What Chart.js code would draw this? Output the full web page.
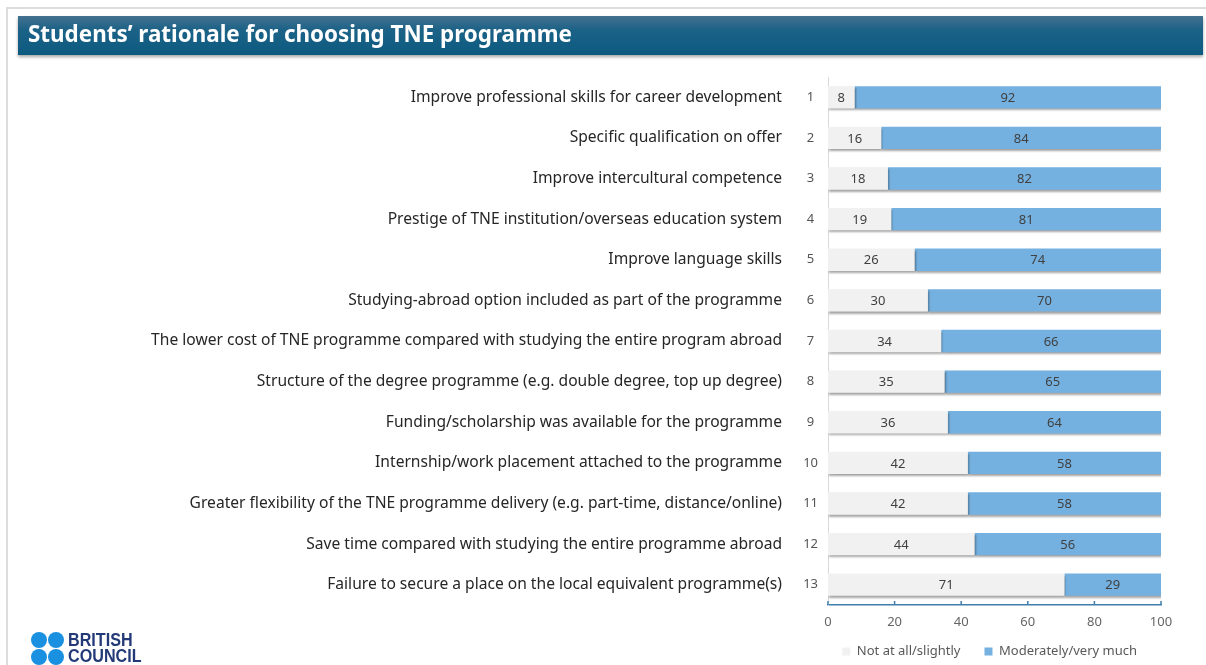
<!DOCTYPE html>
<html>
<head>
<meta charset="utf-8">
<script src="https://cdn.jsdelivr.net/npm/chart.js@4.4.1/dist/chart.umd.min.js"></script>
<style>
  html, body { margin:0; padding:0; background:#fff; }
  body { width:1206px; height:665px; position:relative; overflow:hidden; font-family:"Noto Sans", sans-serif; }
  #frame { position:absolute; left:6px; top:7px; width:1200px; height:660px; border-top:2px solid #dcdcdc; border-left:2px solid #dcdcdc; }
  #titlebar { position:absolute; left:18px; top:16px; width:1185px; height:39px;
    background:linear-gradient(to bottom,#44718f 0%,#1c6287 35%,#0c5a80 100%);
    box-shadow:0 2px 3px rgba(0,0,0,0.35); }
  #titlebar span { position:absolute; left:10px; top:2px; color:#fff; font:bold 22.4px/32px "Noto Sans", sans-serif; }
  #wrap { position:absolute; left:0; top:0; width:1206px; height:665px; }
  #logo { position:absolute; left:31px; top:632px; width:160px; height:34px; }
  .dot { position:absolute; width:16px; height:16px; border-radius:50%; background:#1a90e0; }
  #logo .txt { position:absolute; left:37px; top:0px; color:#233a78; font:bold 19px/16px "Liberation Sans",sans-serif; transform:scaleX(0.85); transform-origin:0 0; white-space:nowrap; }
</style>
</head>
<body>
<div id="frame"></div>
<div id="wrap"><canvas id="c" width="1206" height="665"></canvas></div>
<div id="titlebar"><span>Students’ rationale for choosing TNE programme</span></div>
<div id="logo">
  <div class="dot" style="left:0;top:0"></div><div class="dot" style="left:17px;top:0"></div>
  <div class="dot" style="left:0;top:17px"></div><div class="dot" style="left:17px;top:17px"></div>
  <div class="txt">BRITISH<br>COUNCIL</div>
</div>
<script>
const rankLabels = ['1','2','3','4','5','6','7','8','9','10','11','12','13'];
const reasons = [
  'Improve professional skills for career development',
  'Specific qualification on offer',
  'Improve intercultural competence',
  'Prestige of TNE institution/overseas education system',
  'Improve language skills',
  'Studying-abroad option included as part of the programme',
  'The lower cost of TNE programme compared with studying the entire program abroad',
  'Structure of the degree programme (e.g. double degree, top up degree)',
  'Funding/scholarship was available for the programme',
  'Internship/work placement attached to the programme',
  'Greater flexibility of the TNE programme delivery (e.g. part-time, distance/online)',
  'Save time compared with studying the entire programme abroad',
  'Failure to secure a place on the local equivalent programme(s)'
];
const notAtAll = [8,16,18,19,26,30,34,35,36,42,42,44,71];
const moderately = [92,84,82,81,74,70,66,65,64,58,58,56,29];
const xTicks = [0,20,40,60,80,100];

const shadowPlugin = {
  id:'shadow',
  beforeDatasetsDraw(chart){ const c=chart.ctx; c.save(); c.shadowColor='rgba(0,0,0,0.35)'; c.shadowOffsetY=2; c.shadowOffsetX=1; c.shadowBlur=2; },
  afterDatasetsDraw(chart){ chart.ctx.restore(); }
};
const valuePlugin = {
  id:'values',
  afterDatasetsDraw(chart){
    const c=chart.ctx; c.save();
    c.font='13px "Noto Sans", sans-serif'; c.fillStyle='#404040'; c.textAlign='center'; c.textBaseline='middle';
    chart.data.datasets.forEach((ds,di)=>{
      chart.getDatasetMeta(di).data.forEach((el,i)=>{
        const x=(el.x+el.base)/2;
        c.fillText(String(ds.data[i]), x, el.y+1);
      });
    });
    c.restore();
  }
};
const xTickPlugin = {
  id:'xticks',
  afterDraw(chart){
    const s=chart.scales.x, c=chart.ctx; c.save();
    c.strokeStyle='#3f7fae'; c.lineWidth=1.5;
    xTicks.forEach(v=>{ const px=s.getPixelForValue(v); c.beginPath(); c.moveTo(px,s.top); c.lineTo(px,s.top-4); c.stroke(); });
    c.restore();
  }
};
// keep the legend's wide item spacing without letting it take extra height
const LEGEND_H = 35, LEGEND_SHIFT = 9;
const legendFitPlugin = {
  id:'legendFit',
  beforeLayout(chart){
    const leg = chart.legend;
    if (leg && !leg._wrapped){
      const origFit = leg.fit, origDraw = leg.draw;
      leg.fit = function(){ origFit.call(this); this.height = LEGEND_H; };
      leg.draw = function(){ this.top -= LEGEND_SHIFT; origDraw.apply(this, arguments); this.top += LEGEND_SHIFT; };
      leg._wrapped = true;
    }
  }
};

new Chart(document.getElementById('c'), {
  type:'bar',
  data:{
    labels: rankLabels,
    datasets:[
      { label:'Not at all/slightly', data:notAtAll, backgroundColor:'#f1f1f1', borderWidth:0, yAxisID:'y' },
      { label:'Moderately/very much', data:moderately, backgroundColor:'#74b1e0', borderWidth:0, yAxisID:'y' }
    ]
  },
  plugins:[legendFitPlugin, shadowPlugin, valuePlugin, xTickPlugin],
  options:{
    indexAxis:'y', responsive:false, animation:false,
    categoryPercentage:1, barPercentage:0.55,
    layout:{ padding:{ top:77, right:45, left:0, bottom:0 } },
    scales:{
      x:{ stacked:true, min:0, max:100, afterBuildTicks(s){ s.ticks = xTicks.map(v=>({value:v})); },
          afterFit(s){ s.height = 25; },
          grid:{ display:false, drawTicks:false },
          border:{ display:true, color:'#3f7fae', width:1.5 },
          ticks:{ padding:9, color:'#666', font:{ size:13, family:'"Noto Sans", sans-serif' } } },
      y:{ stacked:true, position:'left', weight:0,
          afterFit(s){ s.width = 36; },
          grid:{ display:false, drawTicks:false },
          border:{ display:true, color:'#d9d9d9', width:1 },
          ticks:{ padding:10, crossAlign:'center', color:'#555', font:{ size:13, family:'"Noto Sans", sans-serif' } } },
      y2:{ type:'category', labels:reasons, position:'left', weight:1, offset:true,
          afterFit(s){ s.width = 792; },
          grid:{ display:false, drawTicks:false }, border:{ display:false },
          ticks:{ padding:10, crossAlign:'near', color:'#262626', font:{ size:15.6, family:'"Noto Sans", sans-serif' } } }
    },
    plugins:{
      legend:{ position:'bottom', align:'end',
        labels:{ boxWidth:8, boxHeight:8, padding:24, color:'#595959', font:{ size:13, family:'"Noto Sans", sans-serif' } } },
      tooltip:{ enabled:false }
    }
  }
});
</script>
</body>
</html>
